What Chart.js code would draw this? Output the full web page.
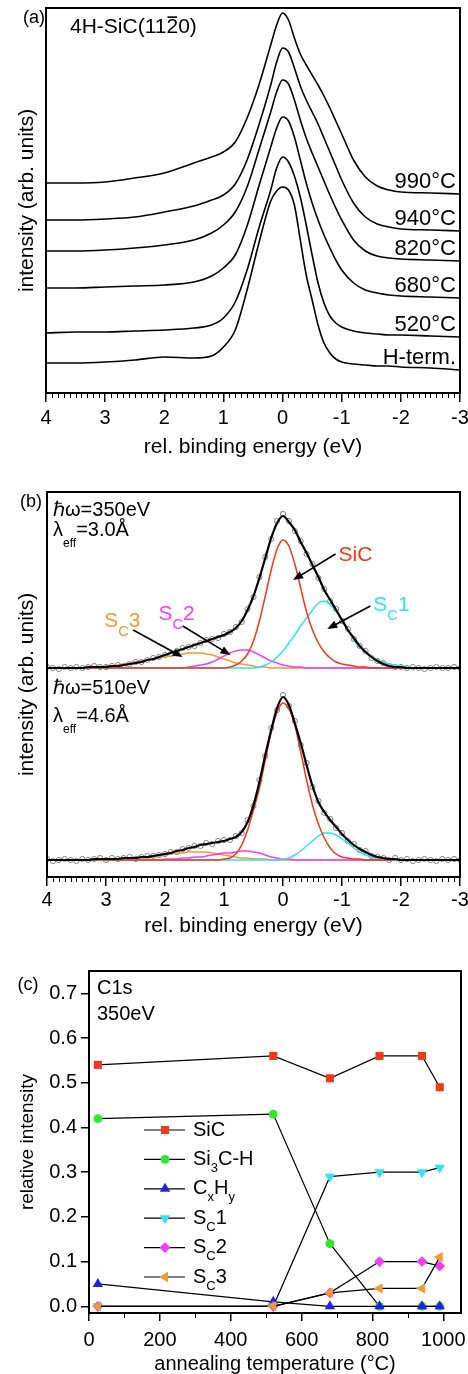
<!DOCTYPE html>
<html><head><meta charset="utf-8">
<script src="https://cdn.jsdelivr.net/npm/chart.js@4/dist/chart.umd.min.js"></script>
<style>
html,body{margin:0;padding:0;background:#fff;width:468px;height:1374px;overflow:hidden}
canvas{position:absolute;left:0}
</style></head><body>
<canvas id="ca" width="468" height="465" style="top:0px"></canvas>
<canvas id="cb" width="468" height="475" style="top:465px"></canvas>
<canvas id="cc" width="468" height="434" style="top:940px"></canvas>
<script>
// ---------------- Panel (a): C1s spectra vs annealing ----------------
const aEnergy = [4.0, 3.5, 3.0, 2.5, 2.0, 1.5, 1.2, 1.0, 0.8, 0.6, 0.4, 0.2, 0.1, 0.0, -0.1, -0.2, -0.3, -0.4, -0.5, -0.6, -0.7, -0.8, -0.9, -1.0, -1.2, -1.4, -1.6, -1.8, -2.0, -2.5, -3.0];
const aNames = ['990°C', '940°C', '820°C', '680°C', '520°C', 'H-term.'];
const a990 = [210,210,211,215,220,230,236,241,251,275, 308,348,368,380,373,355,339,328,318,308, 297,285,272,259,233,216,207,203,201,200, 199];
const a940 = [173,173,174,176,181,187,193,198,209,233, 268,308,331,345,341,325,307,293,281,269, 255,241,227,213,190,176,169,166,164,163, 162];
const a820 = [142,142,143,145,148,153,160,168,181,206, 243,281,301,313,309,293,273,255,240,226, 212,198,185,173,153,142,137,135,134,133, 132];
const a680 = [105,105,106,107,108,111,117,125,138,167, 207,246,265,276,272,256,233,210,190,173, 158,145,133,123,110,103,100,98,97,96, 95];
const a520 = [60,61,61,62,63,65,68,75,91,123, 165,203,225,236,231,217,196,168,138,110, 90,77,70,66,62,60,59,58,58,57, 56];
const aHterm = [30,30,31,33,36,35,37,46,63,103, 150,192,202,206,203,188,153,118,93,68, 50,40,34,31,29,28,27,27,26,25, 23];
const aTicks = [4, 3, 2, 1, 0, -1, -2, -3];

// ---------------- Panel (b): fitted spectra ----------------
const bEnergy = [4.0,3.9,3.8,3.7,3.6,3.5,3.4,3.3,3.2,3.1, 3.0,2.9,2.8,2.7,2.6,2.5,2.4,2.3,2.2,2.1, 2.0,1.9,1.8,1.7,1.6,1.5,1.4,1.3,1.2,1.1, 1.0,0.9,0.8,0.7,0.6,0.5,0.4,0.3,0.2,0.1, 0.0,-0.1,-0.2,-0.3,-0.4,-0.5,-0.6,-0.7,-0.8,-0.9, -1.0,-1.1,-1.2,-1.3,-1.4,-1.5,-1.6,-1.7,-1.8,-1.9, -2.0,-2.1,-2.2,-2.3,-2.4,-2.5,-2.6,-2.7,-2.8,-2.9,-3.0];
// 350 eV
const b350Data = [1,0,-1,1,0,1,0,1,2,1, 1,2,3,2,4,6,6,8,10,11, 13,14,17,20,21,22,25,28,29,30, 34,36,41,46,59,71,91,111,129,147, 154,147,137,127,114,104,90,79,67,59, 47,39,29,22,17,10,7,5,2,1, 1,0,1,0,-1,0,1,0,0,1,0];
const b350Fit = [0,0,0,0,0,0,0,1,1,1, 1,2,2,3,4,5,6,8,9,11, 13,15,17,19,21,23,25,27,29,31, 33,36,40,47,58,72,90,110,130,145, 152,146,138,126,115,103,91,78,68,58, 48,38,30,22,16,11,7,4,2,1, 1,0,0,0,0,0,0,0,0,0,0];
const b350SiC = [0,0,0,0,0,0,0,0,0,0, 0,0,0,0,0,0,0,0,0,0, 0,0,0,0,0,0,0,0,0,0, 0,1,3,7,14,27,47,72,98,119, 128,122,104,80,56,38,25,16,10,6, 4,3,2,1,1,0,0,0,0,0, 0,0,0,0,0,0,0,0,0,0,0];
const b350Sc1 = [0,0,0,0,0,0,0,0,0,0, 0,0,0,0,0,0,0,0,0,0, 0,0,0,0,0,0,0,0,0,0, 0,0,0,0,0,0,1,3,6,11, 17,25,33,42,50,58,65,67,63,57, 48,38,28,21,16,12,8,6,4,3, 2,1,0,0,0,0,0,0,0,0,0];
const b350Sc2 = [0,0,0,0,0,0,0,0,0,0, 0,0,0,0,0,0,0,0,0,0, 0,0,0,0,1,2,3,4,6,9, 12,15,17,18,18,16,13,10,7,5, 3,2,1,1,0,0,0,0,0,0, 0,0,0,0,0,0,0,0,0,0, 0,0,0,0,0,0,0,0,0,0,0];
const b350Sc3 = [0,0,0,0,0,0,0,0,1,1, 2,2,3,4,5,6,7,8,9,10, 11,12,13,14,15,15,15,14,13,11, 9,7,5,4,3,2,1,1,0,0, 0,0,0,0,0,0,0,0,0,0, 0,0,0,0,0,0,0,0,0,0, 0,0,0,0,0,0,0,0,0,0,0];
// 510 eV
const b510Data = [1,-1,0,1,0,-1,1,0,1,2, 0,2,1,2,3,1,3,4,4,5, 6,8,8,11,12,14,14,17,16,19, 20,20,24,27,40,54,80,104,132,150, 165,154,139,115,97,73,59,47,41,32, 27,19,16,10,9,4,3,2,0,2, 0,1,-1,0,1,0,-1,1,0,1,0];
const b510Fit = [0,0,0,0,0,0,0,0,1,1, 1,1,1,2,2,2,3,3,4,5, 6,7,9,10,12,13,15,16,17,18, 19,21,23,28,38,55,78,105,130,152, 163,155,137,117,95,74,58,48,40,33, 26,20,15,11,8,5,3,2,1,1, 0,0,0,0,0,0,0,0,0,0,0];
const b510SiC = [0,0,0,0,0,0,0,0,0,0, 0,0,0,0,0,0,0,0,0,0, 0,0,0,0,0,0,0,0,0,0, 1,2,6,15,30,50,72,100,128,148, 157,151,135,108,80,55,36,22,12,6, 3,2,1,1,0,0,0,0,0,0, 0,0,0,0,0,0,0,0,0,0,0];
const b510Sc1 = [0,0,0,0,0,0,0,0,0,0, 0,0,0,0,0,0,0,0,0,0, 0,0,0,0,0,0,0,0,0,0, 0,0,0,0,0,0,0,0,0,0, 1,2,5,9,14,19,24,27,27,25, 21,17,12,8,5,3,2,1,0,0, 0,0,0,0,0,0,0,0,0,0,0];
const b510Sc2 = [0,0,0,0,0,0,0,0,0,0, 0,0,0,0,0,0,0,0,0,0, 1,1,1,2,2,3,3,4,5,6, 7,7,8,9,9,8,7,5,3,2, 1,1,0,0,0,0,0,0,0,0, 0,0,0,0,0,0,0,0,0,0, 0,0,0,0,0,0,0,0,0,0,0];
const b510Sc3 = [0,0,0,0,0,0,0,0,0,0, 0,0,0,0,1,1,1,2,3,4, 5,6,7,7,8,8,8,8,7,6, 5,4,3,2,2,1,1,1,0,0, 0,0,0,0,0,0,0,0,0,0, 0,0,0,0,0,0,0,0,0,0, 0,0,0,0,0,0,0,0,0,0,0];
const B350_OFFSET = 209;   // stacking offset of upper spectrum
const B510_OFFSET = 17;    // stacking offset of lower spectrum

// ---------------- Panel (c): relative intensities ----------------
const cTemps = [25, 520, 680, 820, 940, 990];
const cSiC   = [0.54, 0.56, 0.51, 0.56, 0.56, 0.49];
const cSi3CH = [0.42, 0.43, 0.14, 0.00, 0.00, 0.00];
const cCxHy  = [0.05, 0.01, 0.00, 0.00, 0.00, 0.00];
const cSc1   = [0.00, 0.00, 0.29, 0.30, 0.30, 0.31];
const cSc2   = [0.00, 0.00, 0.03, 0.10, 0.10, 0.09];
const cSc3   = [0.00, 0.00, 0.03, 0.04, 0.04, 0.11];

// ---------------- styling ----------------
const FAM = "'Liberation Sans', Arial, Helvetica, sans-serif";
const RED = '#f4361b', GREEN = '#2ee82e', BLUE = '#1f1fef', CYAN = '#2ee4f0', MAG = '#f23ff2', ORANGE = '#f7972f';
Chart.defaults.font.family = FAM;
Chart.defaults.color = '#000';

function fnt(sz) { return sz + 'px ' + FAM; }
function rich(ctx, parts, x, y, size, color, align) {
  ctx.save(); ctx.fillStyle = color; ctx.textBaseline = 'middle'; ctx.textAlign = 'left';
  let w = 0;
  parts.forEach(p => { ctx.font = fnt(size * (p[1] || 1)); w += ctx.measureText(p[0]).width; });
  let cx = align === 'right' ? x - w : (align === 'center' ? x - w / 2 : x);
  parts.forEach(p => { ctx.font = fnt(size * (p[1] || 1)); ctx.fillText(p[0], cx, y + size * (p[2] || 0)); cx += ctx.measureText(p[0]).width; });
  ctx.restore();
  return w;
}
function arrow(ctx, x1, y1, x2, y2) {
  const ang = Math.atan2(y2 - y1, x2 - x1), L = 10, W = 4;
  ctx.save(); ctx.strokeStyle = '#000'; ctx.fillStyle = '#000'; ctx.lineWidth = 1.6;
  ctx.beginPath(); ctx.moveTo(x1, y1); ctx.lineTo(x2 - Math.cos(ang) * L * 0.8, y2 - Math.sin(ang) * L * 0.8); ctx.stroke();
  ctx.beginPath(); ctx.moveTo(x2, y2);
  ctx.lineTo(x2 - Math.cos(ang) * L - Math.sin(ang) * W, y2 - Math.sin(ang) * L + Math.cos(ang) * W);
  ctx.lineTo(x2 - Math.cos(ang) * L + Math.sin(ang) * W, y2 - Math.sin(ang) * L - Math.cos(ang) * W);
  ctx.closePath(); ctx.fill(); ctx.restore();
}
function frame(chart) {
  const {ctx, chartArea: a} = chart;
  ctx.save(); ctx.strokeStyle = '#000'; ctx.lineWidth = 2;
  ctx.strokeRect(a.left, a.top, a.right - a.left, a.bottom - a.top); ctx.restore();
}
function minorTicks(chart, values, len) {
  const {ctx, chartArea: a, scales: {x}} = chart;
  ctx.save(); ctx.strokeStyle = '#000'; ctx.lineWidth = 1; ctx.beginPath();
  values.forEach(v => { const px = Math.round(x.getPixelForValue(v)) + 0.5; ctx.moveTo(px, a.bottom); ctx.lineTo(px, a.bottom + len); });
  ctx.stroke(); ctx.restore();
}
const eMinor = []; for (let k = -30; k <= 40; k++) { if (k % 10 !== 0) eMinor.push(k / 10); }

const baseOpts = {responsive: false, devicePixelRatio: 1, animation: false, events: [],
  plugins: {legend: {display: false}, tooltip: {enabled: false}}};

function energyAxis(h, pad, titlePad) {
  return {type: 'linear', min: -3, max: 4, reverse: true,
    afterBuildTicks: s => { s.ticks = aTicks.map(v => ({value: v})); },
    ticks: {font: {size: 20}, padding: pad, color: '#000', autoSkip: false, maxRotation: 0, callback: v => String(v)},
    grid: {display: true, drawOnChartArea: false, drawTicks: true, tickLength: 9, color: '#000', lineWidth: 1.5},
    border: {display: false},
    title: {display: true, text: 'rel. binding energy (eV)', font: {size: 21, lineHeight: 1}, padding: {top: 0, bottom: titlePad}, color: '#000'},
    afterFit: s => { s.height = h; s.paddingLeft = 0; s.paddingRight = 0; }};
}
function intensityAxis(w) {
  return {min: 0, max: 385, ticks: {display: false}, grid: {display: false}, border: {display: false},
    title: {display: true, text: 'intensity (arb. units)', font: {size: 21, lineHeight: 1}, padding: {top: 17, bottom: 0}, color: '#000'},
    afterFit: s => { s.width = w; s.paddingTop = 0; s.paddingBottom = 0; }};
}

// ---------------- Chart (a) ----------------
const aSeries = [a990, a940, a820, a680, a520, aHterm];
new Chart(document.getElementById('ca'), {
  type: 'line',
  data: {datasets: aSeries.map((vals, k) => ({
    label: aNames[k], data: vals.map((v, i) => ({x: aEnergy[i], y: v})),
    borderColor: '#000', borderWidth: 1.6, pointRadius: 0, cubicInterpolationMode: 'monotone', fill: false}))},
  options: Object.assign({}, baseOpts, {
    layout: {padding: {left: 0, right: 8, top: 8, bottom: 0}},
    scales: {x: energyAxis(72, 4, 7.5), y: intensityAxis(46)}}),
  plugins: [{id: 'decorA', afterDraw(chart) {
    const {ctx, chartArea: a, scales: {y}} = chart;
    minorTicks(chart, eMinor, 5); frame(chart);
    chart.data.datasets.forEach(ds => {
      const last = ds.data[ds.data.length - 1].y;
      rich(ctx, [[ds.label]], a.right - 4, y.getPixelForValue(last) - 12, 22, '#000', 'right');
    });
    rich(ctx, [['(a)']], 34, 18, 18, '#000', 'center');
    // 4H-SiC(11-20) with overline on the 2
    const x0 = a.left + 24, yc = a.top + 19, sz = 21;
    ctx.save(); ctx.font = fnt(sz);
    const w1 = ctx.measureText('4H-SiC(11').width, w2 = ctx.measureText('2').width;
    ctx.restore();
    rich(ctx, [['4H-SiC(11'], ['2'], ['0)']], x0, yc, sz, '#000', 'left');
    ctx.save(); ctx.strokeStyle = '#000'; ctx.lineWidth = 1.6; ctx.beginPath();
    ctx.moveTo(x0 + w1 + 1, yc - sz * 0.47); ctx.lineTo(x0 + w1 + w2 - 1, yc - sz * 0.47); ctx.stroke(); ctx.restore();
  }}]
});

// ---------------- Chart (b) ----------------
function spec(vals, off) { return vals.map((v, i) => ({x: bEnergy[i], y: v + off})); }
function fitLine(vals, off, color, w, order) {
  return {data: spec(vals, off), borderColor: color, borderWidth: w, pointRadius: 0, cubicInterpolationMode: 'monotone', fill: false, order: order};
}
function pts(vals, off) {
  return {data: spec(vals, off), showLine: false, pointStyle: 'circle', pointRadius: 2.6, pointBorderWidth: 0.8,
    pointBorderColor: '#666', pointBackgroundColor: 'rgba(255,255,255,0)', order: 6};
}
const B_ARROWS = [[-0.89, 323, -0.17, 297], [-1.48, 271, -0.75, 248], [1.70, 251, 0.89, 222], [2.54, 247, 1.70, 220]];
const B_LABELS = [
  {parts: [['SiC']], e: -0.94, i: 322, color: RED},
  {parts: [['S'], ['C', 0.7, 0.5], ['1']], e: -1.53, i: 272, color: CYAN},
  {parts: [['S'], ['C', 0.7, 0.5], ['2']], e: 2.11, i: 263, color: MAG},
  {parts: [['S'], ['C', 0.7, 0.5], ['3']], e: 3.03, i: 256, color: ORANGE}];
new Chart(document.getElementById('cb'), {
  type: 'line',
  data: {datasets: [
    pts(b350Data, B350_OFFSET), fitLine(b350Fit, B350_OFFSET, '#000', 2.2, 0),
    fitLine(b350SiC, B350_OFFSET, RED, 1.5, 1), fitLine(b350Sc1, B350_OFFSET, CYAN, 1.5, 2),
    fitLine(b350Sc2, B350_OFFSET, MAG, 1.5, 3), fitLine(b350Sc3, B350_OFFSET, ORANGE, 1.5, 4),
    pts(b510Data, B510_OFFSET), fitLine(b510Fit, B510_OFFSET, '#000', 2.2, 0),
    fitLine(b510SiC, B510_OFFSET, RED, 1.5, 1), fitLine(b510Sc1, B510_OFFSET, CYAN, 1.5, 2),
    fitLine(b510Sc2, B510_OFFSET, MAG, 1.5, 3), fitLine(b510Sc3, B510_OFFSET, ORANGE, 1.5, 4)]},
  options: Object.assign({}, baseOpts, {
    layout: {padding: {left: 0, right: 8, top: 27, bottom: 0}},
    scales: {x: energyAxis(63, 2, 3.5), y: intensityAxis(47)}}),
  plugins: [{id: 'decorB', afterDraw(chart) {
    const {ctx, chartArea: a, scales: {x, y}} = chart;
    minorTicks(chart, eMinor, 5); frame(chart);
    rich(ctx, [['(b)']], 31, 37, 18, '#000', 'center');
    rich(ctx, [['ℏω=350eV']], a.left + 6, a.top + 18, 20, '#000', 'left');
    rich(ctx, [['λ'], ['eff', 0.6, 0.7], ['=3.0Å']], a.left + 6, a.top + 38, 20, '#000', 'left');
    rich(ctx, [['ℏω=510eV']], a.left + 6, a.top + 196, 20, '#000', 'left');
    rich(ctx, [['λ'], ['eff', 0.6, 0.7], ['=4.6Å']], a.left + 6, a.top + 224, 20, '#000', 'left');
    B_ARROWS.forEach(r => arrow(ctx, x.getPixelForValue(r[0]), y.getPixelForValue(r[1]), x.getPixelForValue(r[2]), y.getPixelForValue(r[3])));
    B_LABELS.forEach(l => rich(ctx, l.parts, x.getPixelForValue(l.e), y.getPixelForValue(l.i), 21, l.color, 'left'));
  }}]
});

// ---------------- Chart (c) ----------------
const cSeries = [
  {name: [['SiC']], vals: cSiC, color: RED, style: 'rect', r: 5.7, rot: 0, order: 6},
  {name: [['Si'], ['3', 0.65, 0.45], ['C-H']], vals: cSi3CH, color: GREEN, style: 'circle', r: 4.4, rot: 0, order: 5},
  {name: [['C'], ['x', 0.65, 0.45], ['H'], ['y', 0.65, 0.45]], vals: cCxHy, color: BLUE, style: 'triangle', r: 6, rot: 0, order: 4},
  {name: [['S'], ['C', 0.65, 0.45], ['1']], vals: cSc1, color: CYAN, style: 'triangle', r: 6, rot: 180, order: 3},
  {name: [['S'], ['C', 0.65, 0.45], ['2']], vals: cSc2, color: MAG, style: 'rectRot', r: 5.4, rot: 0, order: 2},
  {name: [['S'], ['C', 0.65, 0.45], ['3']], vals: cSc3, color: ORANGE, style: 'triangle', r: 6, rot: -90, order: 1}];
function marker(ctx, s, x, y) {
  ctx.save(); ctx.fillStyle = s.color; ctx.beginPath();
  if (s.style === 'rect') { const h = Math.SQRT1_2 * s.r; ctx.rect(x - h, y - h, 2 * h, 2 * h); }
  else if (s.style === 'circle') { ctx.arc(x, y, s.r, 0, Math.PI * 2); }
  else if (s.style === 'rectRot') { ctx.moveTo(x, y - s.r); ctx.lineTo(x + s.r, y); ctx.lineTo(x, y + s.r); ctx.lineTo(x - s.r, y); ctx.closePath(); }
  else { let rad = s.rot * Math.PI / 180; for (let k = 0; k < 3; k++) { const px = x + Math.sin(rad) * s.r, py = y - Math.cos(rad) * s.r; k ? ctx.lineTo(px, py) : ctx.moveTo(px, py); rad += 2 * Math.PI / 3; } ctx.closePath(); }
  ctx.fill(); ctx.restore();
}
new Chart(document.getElementById('cc'), {
  type: 'line',
  data: {datasets: cSeries.map(s => ({
    data: s.vals.map((v, i) => ({x: cTemps[i], y: v})), borderColor: '#000', borderWidth: 1.2, tension: 0,
    pointStyle: s.style, pointRadius: s.r, pointRotation: s.rot, pointBackgroundColor: s.color, pointBorderColor: s.color,
    pointBorderWidth: 0, order: s.order, fill: false}))},
  options: Object.assign({}, baseOpts, {
    layout: {padding: {left: 0, right: 7, top: 31, bottom: 0}},
    scales: {
      x: {type: 'linear', min: 0, max: 1050,
        ticks: {stepSize: 200, includeBounds: false, font: {size: 20}, padding: 7, color: '#000', maxRotation: 0, autoSkip: false, callback: v => String(v)},
        grid: {display: true, drawOnChartArea: false, drawTicks: true, tickLength: 8, color: '#000', lineWidth: 1.5},
        border: {display: false},
        title: {display: true, text: 'annealing temperature (°C)', font: {size: 20, lineHeight: 1}, padding: {top: 0, bottom: 0}, color: '#000'},
        afterFit: s => { s.height = 61; s.paddingLeft = 0; s.paddingRight = 0; }},
      y: {min: -0.015, max: 0.75,
        ticks: {stepSize: 0.1, includeBounds: false, font: {size: 20}, padding: 4, color: '#000', callback: v => v.toFixed(1)},
        grid: {display: true, drawOnChartArea: false, drawTicks: true, tickLength: 8, color: '#000', lineWidth: 1.5},
        border: {display: false},
        title: {display: true, text: 'relative intensity', font: {size: 19, lineHeight: 1}, padding: {top: 18.5, bottom: 0}, color: '#000'},
        afterFit: s => { s.width = 89; s.paddingTop = 0; s.paddingBottom = 0; }}
    }}),
  plugins: [{id: 'decorC', afterDraw(chart) {
    const {ctx, chartArea: a} = chart;
    minorTicks(chart, [100, 300, 500, 700, 900], 5); frame(chart);
    rich(ctx, [['(c)']], 28, 45, 18, '#000', 'center');
    rich(ctx, [['C1s']], a.left + 8, a.top + 17, 20, '#000', 'left');
    rich(ctx, [['350eV']], a.left + 8, a.top + 43, 20, '#000', 'left');
    cSeries.forEach((s, k) => {
      const yy = a.top + 159 + k * 29.4;
      ctx.save(); ctx.strokeStyle = '#000'; ctx.lineWidth = 1.2; ctx.beginPath();
      ctx.moveTo(a.left + 55, yy); ctx.lineTo(a.left + 96, yy); ctx.stroke(); ctx.restore();
      marker(ctx, s, a.left + 76, yy);
      rich(ctx, s.name, a.left + 104, yy, 20, '#000', 'left');
    });
  }}]
});
</script>
</body></html>
